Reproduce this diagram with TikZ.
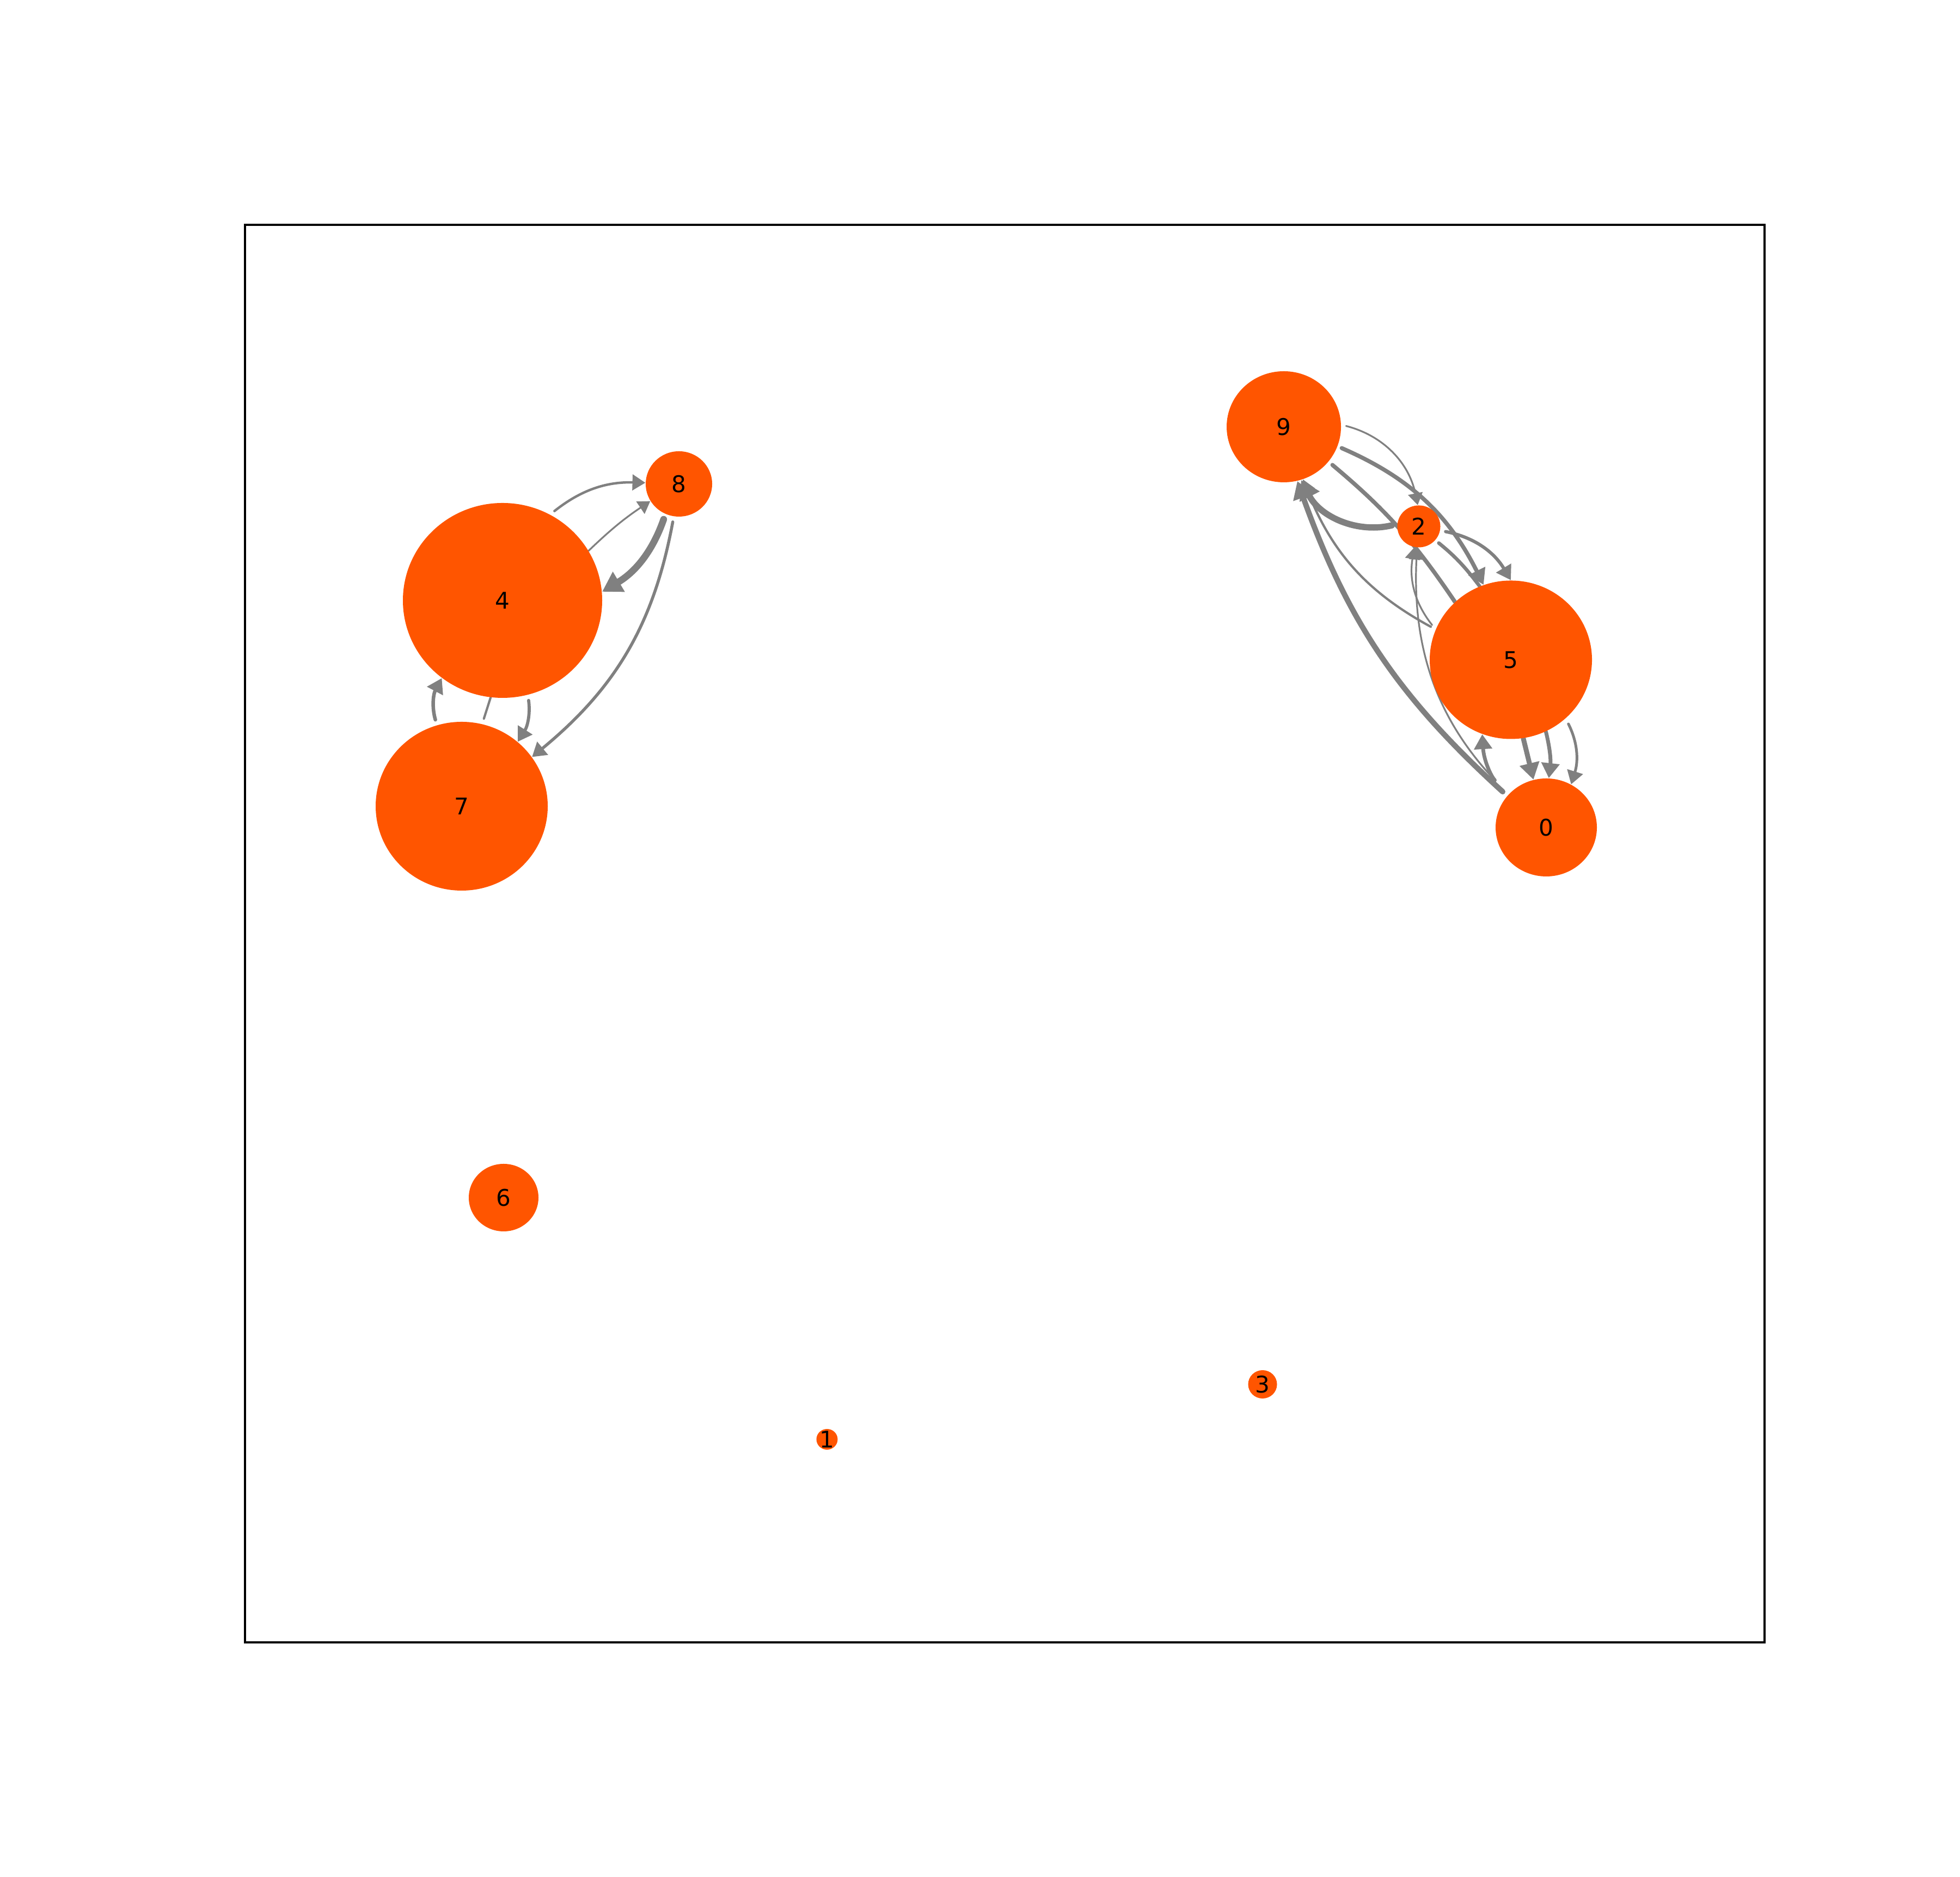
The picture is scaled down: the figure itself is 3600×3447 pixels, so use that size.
\documentclass[tikz,border=0pt]{standalone}
\usepackage{fontspec}
\setmainfont{DejaVu Sans}
\usetikzlibrary{arrows.meta,shapes.geometric,backgrounds}
\definecolor{nodec}{HTML}{FF5500}
\definecolor{edgec}{HTML}{808080}
\newcommand{\lblfont}{\fontsize{12}{14}\selectfont}
\tikzset{
  nd/.style 2 args={ellipse,fill=nodec,draw=none,inner sep=-2mm,
                    minimum width=#1*0.1mm,minimum height=#2*0.1mm,font=\lblfont},
  ed/.style ={draw=edgec,line cap=round,-{Triangle[length=1.7mm 1.5,width=2.2mm 1.5]}},
  ln/.style ={draw=edgec,line cap=round},
  frm/.style={draw=black,line width=.35mm},
}

\begin{document}
\begin{tikzpicture}[x=0.1mm,y=0.1mm]
\useasboundingbox (0,0) rectangle (3600,3447);
\draw[frm] (450,430) rectangle (3241,3034);

% ---- nodes ---------------------------------------------------------------
\node[nd={186}{180}] (n0) at (2840,1927) {0};
\node[nd={39}{38}]   (n1) at (1519,803)  {1};
\node[nd={79}{77}]   (n2) at (2606,2480) {2};
\node[nd={53}{52}]   (n3) at (2319,904)  {3};
\node[nd={366}{358}] (n4) at (923,2344)  {4};
\node[nd={298}{291}] (n5) at (2775,2235) {5};
\node[nd={128}{124}] (n6) at (925,1247)  {6};
\node[nd={316}{310}] (n7) at (848,1966)  {7};
\node[nd={122}{120}] (n8) at (1247,2558) {8};
\node[nd={210}{204}] (n9) at (2358,2663) {9};

\begin{scope}[on background layer]
% ---- left group: 4, 7, 8 ------------------------------------------------
\draw[ed,line width=.45mm,shorten <=1mm] (n4.61) to[bend left=20] (n8.178);
\draw[ed,line width=.32mm] (n4.30) to[bend left=5] (n8.211);
\draw[ed,line width=1.25mm,shorten <=1mm] (n8.246) to[bend left=20] (n4.5);
\draw[ed,line width=.55mm,shorten <=1mm] (n8.261) to[bend left=20] (n7.35);
\draw[ed,line width=.65mm,shorten <=1mm] (n7.107) to[bend left=22] (n4.232);
\draw[ln,line width=.42mm,shorten <=1mm] (n7.76) -- (n4.263);
\draw[ed,line width=.58mm,shorten <=1mm] (n4.285) to[bend left=20] (n7.49);

% ---- right group: 9, 2, 5, 0 --------------------------------------------
\draw[ed,line width=.32mm,shorten <=.9mm] (n9.2) to[bend left=32] (n2.93);
\draw[ed,line width=.75mm,shorten <=.8mm] (n9.340) to[bend left=20] (n5.110);
\draw[ln,line width=.75mm,shorten <=.9mm] (n9.322) to[bend left=8] (n5.134);
\draw[ed,line width=1.15mm,shorten <=1mm] (n2.174) to[bend left=38] (n9.288);
\draw[ed,line width=.42mm,shorten <=1mm] (n5.158) to[bend left=20] (n9.290);
\draw[ed,line width=1mm,shorten <=1.1mm] (n0.141) to[bend left=14] (n9.284);
\draw[ed,line width=.32mm,shorten <=1mm] (n5.158) to[bend left=24] (n2.258);
\draw[ed,line width=.32mm,shorten <=3.6mm] (n0.139) to[bend left=23] (n2.265);
\draw[ed,line width=.68mm,shorten <=3.6mm] (n0.139) to[bend left=20] (n5.249);
\draw[ed,line width=.9mm] (n5.279) -- (n0.105);
\draw[ed,line width=.7mm] (n5.296) to[bend left=10] (n0.87);
\draw[ed,line width=.5mm,shorten <=1.1mm] (n5.313) to[bend left=22] (n0.60);
\draw[ed,line width=.6mm,shorten <=1mm] (n2.349) to[bend left=24] (n5.90);
\draw[ln,line width=.65mm,shorten <=.8mm] (n2.320) to[bend left=7] (n5.113);
\end{scope}
\end{tikzpicture}
\end{document}
